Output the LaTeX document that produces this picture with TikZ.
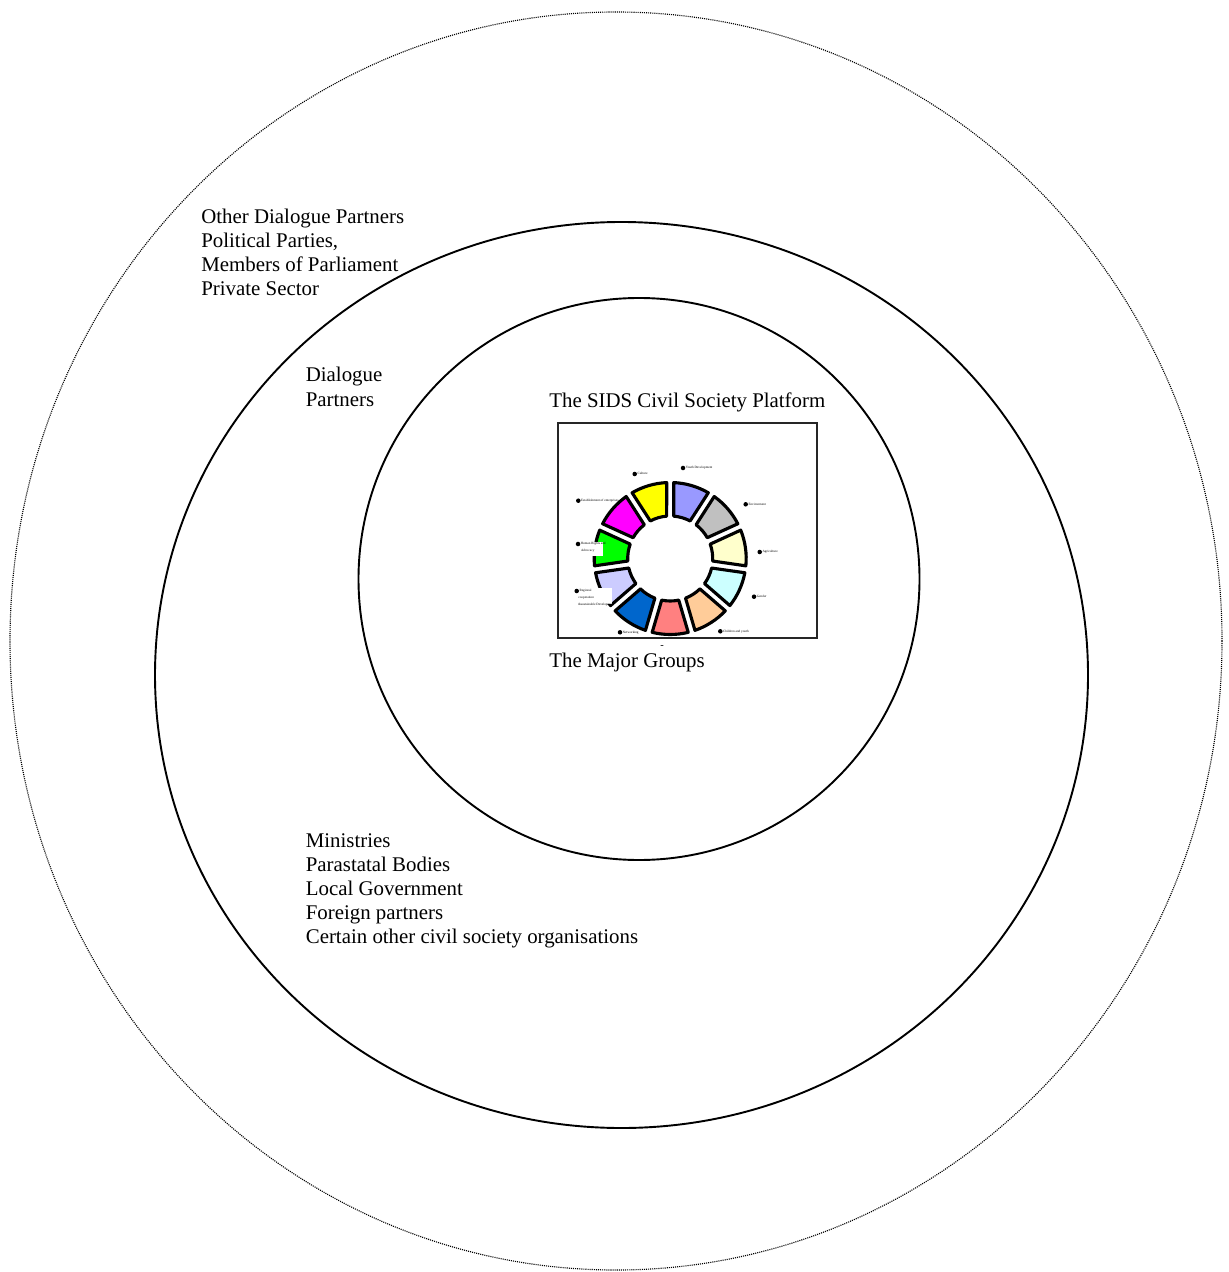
\documentclass[tikz,border=0pt]{standalone}
\usepackage{fontspec}
\setmainfont{Liberation Serif}
\definecolor{segA}{HTML}{9999FF}
\definecolor{segB}{HTML}{C0C0C0}
\definecolor{segC}{HTML}{FFFFCC}
\definecolor{segD}{HTML}{CCFFFF}
\definecolor{segE}{HTML}{FFCC99}
\definecolor{segF}{HTML}{FF8080}
\definecolor{segG}{HTML}{0066CC}
\definecolor{segH}{HTML}{CCCCFF}
\definecolor{segI}{HTML}{00FF00}
\definecolor{segJ}{HTML}{FF00FF}
\definecolor{segK}{HTML}{FFFF00}
\begin{document}
\begin{tikzpicture}[x=0.575pt,y=0.575pt,
  ring/.style={draw=black, line width=1.1pt},
  dotring/.style={draw=black, line width=0.65pt, dash pattern=on 0.6pt off 0.6pt},
  lbl/.style={font=\fontsize{12}{13.8}\selectfont, anchor=base west, inner sep=0pt},
  seg/.style={draw=black, line width=1.8pt, line join=round},
  mdot/.style={circle, fill=black, inner sep=0pt, minimum size=2.6pt},
  tinytxt/.style={font=\fontsize{1.9}{2.3}\selectfont, anchor=base west, inner sep=0pt},
  panel/.style={draw=black!85, line width=0.6pt}]
\useasboundingbox (0,0) rectangle (1228,-1272);
% rings
\draw[dotring] (616,-641) ellipse [x radius=606, y radius=629];
\draw[ring] (621.5,-675) ellipse [x radius=466.5, y radius=453];
\draw[ring] (639,-579) ellipse [x radius=280.5, y radius=281];
% outer texts
\node[lbl] (o1) at (201,-224) {Other Dialogue Partners};
\node[lbl] (o2) at (201,-248) {Political Parties,};
\node[lbl] (o3) at (201,-272) {Members of Parliament};
\node[lbl] (o4) at (201,-296) {Private Sector};
\node[lbl] (d1) at (305.5,-382) {Dialogue};
\node[lbl] (d2) at (305.5,-406) {Partners};
\node[lbl] (m1) at (305.5,-847) {Ministries};
\node[lbl] (m2) at (305.5,-871) {Parastatal Bodies};
\node[lbl] (m3) at (305.5,-895) {Local Government};
\node[lbl] (m4) at (305.5,-919) {Foreign partners};
\node[lbl] (m5) at (305.5,-943) {Certain other civil society organisations};
\node[lbl] (title) at (549,-408) {The SIDS Civil Society Platform};
\node[lbl] (mg) at (549,-667) {The Major Groups};
\node[font=\fontsize{6}{7}\selectfont, inner sep=0pt] (dash) at (662,-647) {-};
% panel
\draw[panel] (558,-423) rectangle (817,-638);
% wheel
\def\S{32.727273}
\foreach \col [count=\i from 0] in {segA,segB,segC,segD,segE,segF,segG,segH,segI,segJ,segK} {
  \pgfmathsetmacro\a{90-\i*\S}
  \pgfmathsetmacro\b{\a-\S}
  \draw[seg, fill=\col, shift={(670.2,-558.5)}]
    (\a-2.64:76) arc[start angle=\a-2.64, end angle=\b+2.64, radius=76]
    -- (\b+4.78:42.5) arc[start angle=\b+4.78, end angle=\a-4.78, radius=42.5] -- cycle;
}
% white patches behind labels
\fill[white] (575,-541.7) rectangle (603.3,-555.7);
\fill[white] (575,-588) rectangle (612,-604);
% labels
\node[mdot] (p1) at (683,-468) {};
\node[tinytxt] (t1) at (685.5,-468.7) {Youth Development};
\node[mdot] (p2) at (745.7,-504.3) {};
\node[tinytxt] (t2) at (748.2,-505) {Environment};
\node[mdot] (p3) at (759.7,-552) {};
\node[tinytxt] (t3) at (762.2,-552.7) {Agriculture};
\node[mdot] (p4) at (754,-596.7) {};
\node[tinytxt] (t4) at (756.5,-597.4) {Gender};
\node[mdot] (p5) at (720.3,-631.3) {};
\node[tinytxt] (t5) at (722.8,-632) {Children and youth};
\node[mdot] (p6) at (620,-632.3) {};
\node[tinytxt] (t6) at (622.5,-633) {Networking};
\node[mdot] (p7) at (576.7,-591) {};
\node[tinytxt] (t7a) at (579.2,-591.7) {Regional};
\node[tinytxt] (t7b) at (578,-598.5) {cooperation};
\node[tinytxt] (t7c) at (578,-605.3) {\&sustainable Development};
\node[mdot] (p8) at (578,-544) {};
\node[tinytxt] (t8a) at (580.5,-544.7) {Human Rights and};
\node[tinytxt] (t8b) at (580.7,-551.5) {Advocacy};
\node[mdot] (p9) at (578.3,-500.7) {};
\node[tinytxt] (t9) at (580.8,-501.4) {Establishment of enterprises};
\node[mdot] (p10) at (634.7,-474) {};
\node[tinytxt] (t10) at (637.2,-474.7) {Culture};
\end{tikzpicture}
\end{document}
